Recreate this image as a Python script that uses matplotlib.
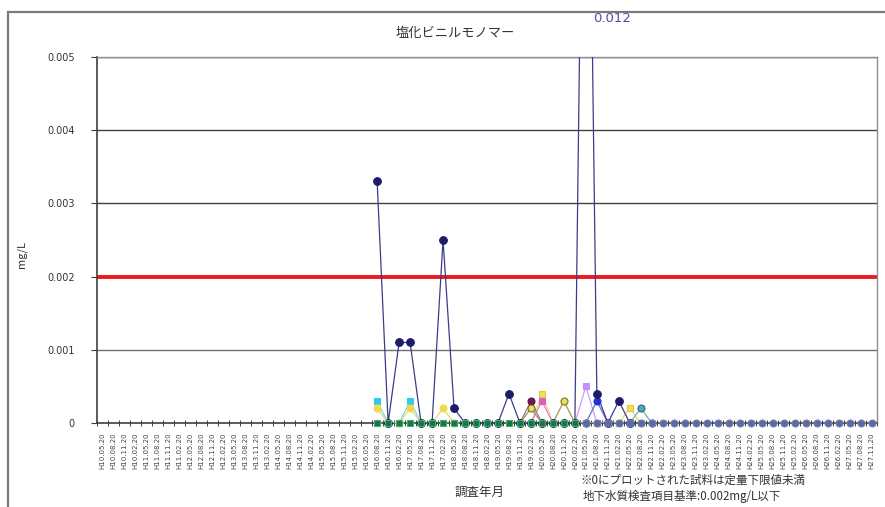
import numpy as np
import matplotlib.pyplot as plt

plt.rcParams['font.family'] = ['Noto Sans CJK JP', 'DejaVu Sans']

## categories (survey dates, illegible in the source -> approximate)
years = list(range(10, 28))
months = ["05", "08", "11", "02"]
cat_labels = ["H%d.%s.20" % (y, m) for y in years for m in months][:71]
n_cat = len(cat_labels)

## series: first category index + values (mg/L)
navy_start = 25
navy = [0.0033, 0, 0.0011, 0.0011, 0, 0, 0.0025, 0.0002, 0, 0, 0, 0,
        0.0004, 0, 0, 0, 0, 0, 0, 0.012, 0.0004, 0, 0.0003, 0]
cyan_start = 25
cyan = [0.0003, 0, 0, 0.0003, 0, 0]
yellow_start = 25
yellow = [0.0002, 0, 0, 0.0002, 0, 0, 0.0002, 0]
gold_start = 38
gold = [0, 0, 0.0004, 0, 0, 0, 0, 0, 0, 0, 0.0002, 0]
maroon_start = 38
maroon = [0, 0.0003, 0]
olive_start = 38
olive = [0, 0.0002, 0, 0, 0.0003, 0]
pink_start = 39
pink = [0, 0.0003, 0]
lavender_start = 43
lavender = [0, 0.0005, 0]
blue_start = 44
blue = [0, 0.0003, 0]
teal_start = 48
teal = [0, 0.0002, 0]
green_start = 25
green = [0, 0, 0, 0, 0, 0, 0, 0, 0, 0, 0, 0, 0, 0, 0, 0, 0, 0, 0]
slate_start = 44
slate = [0, 0, 0, 0, 0, 0, 0, 0, 0, 0, 0, 0, 0, 0, 0, 0, 0, 0, 0, 0,
         0, 0, 0, 0, 0, 0, 0]

standard = 0.002

# (start, values, marker, face, edge, line colour, marker size)
series = [
    (cyan_start, cyan, 's', '#33c8ee', '#33c8ee', '#7fd8e8', 5),
    (yellow_start, yellow, 'o', '#f2d84a', '#f2d84a', '#e8d870', 5),
    (gold_start, gold, 's', '#f0e060', '#e0c840', '#e8dc80', 5),
    (pink_start, pink, 's', '#e060c0', '#e060c0', '#e080c8', 5),
    (maroon_start, maroon, 'o', '#801060', '#601040', '#a07090', 5),
    (olive_start, olive, 'o', '#e8e060', '#807020', '#a09850', 5),
    (lavender_start, lavender, 's', '#c890f8', '#c890f8', '#c8a0f0', 5),
    (blue_start, blue, 'o', '#2030e0', '#2030e0', '#6070e0', 5),
    (teal_start, teal, 'o', '#50a8b0', '#306878', '#70b0b8', 5),
    (navy_start, navy, 'o', '#1c1c68', '#1c1c68', '#3c3c8c', 5.5),
    (green_start, green, 's', '#1f7050', '#38b860', '#38b860', 5),
    (slate_start, slate, 'o', '#5a6aa0', '#7080b0', '#7080b0', 5),
]

fig = plt.figure(figsize=(8.85, 5.07), dpi=100)
ax = fig.add_axes([97/885, 1-423/507, 780/885, 366/507])

## outer frame of the chart area
fig.add_artist(plt.Rectangle((8/885, -0.1), 1.2, 1.1-12/507, transform=fig.transFigure,
                             fill=False, edgecolor='#7a7a7a', lw=1.6))

# grid lines
for g in [0.001, 0.003, 0.004, 0.005]:
    ax.axhline(g, color='#404040' if g != 0.001 else '#707070', lw=1.0, zorder=1)
ax.axhline(standard, color='#ee1a1a', lw=2.8, zorder=2)

for start, vals, mk, fc, ec, lc, ms in series:
    x = np.arange(start, start + len(vals))
    ax.plot(x, vals, color=lc, lw=0.9, zorder=3)
for start, vals, mk, fc, ec, lc, ms in series:
    x = np.arange(start, start + len(vals))
    ax.plot(x, vals, linestyle='none', marker=mk, ms=ms, mfc=fc, mec=ec, mew=0.8,
            zorder=4, clip_on=False)

ax.set_xlim(-0.5, n_cat - 0.5)
ax.set_ylim(0, 0.005)
ax.set_yticks([0, 0.001, 0.002, 0.003, 0.004, 0.005])
ax.set_yticklabels(["0", "0.001", "0.002", "0.003", "0.004", "0.005"],
                   fontsize=7, color='#333333', family='DejaVu Sans')
ax.tick_params(axis='y', direction='out', length=4, width=0.8, color='#404040', pad=12)

ax.set_xticks(np.arange(n_cat))
ax.set_xticklabels(cat_labels, rotation=90, fontsize=5.0, color='#444444',
                   family='DejaVu Sans')
ax.tick_params(axis='x', length=0, pad=7)
ax.set_xticks(np.arange(n_cat + 1) - 0.5, minor=True)
ax.tick_params(axis='x', which='minor', direction='inout', length=4, width=0.7,
               color='#404040')

for s in ['left', 'bottom']:
    ax.spines[s].set_color('#404040')
    ax.spines[s].set_linewidth(1.2)
for s in ['top', 'right']:
    ax.spines[s].set_color('#909090')
    ax.spines[s].set_linewidth(1.0)

ax.set_ylabel("mg/L", fontsize=8, color='#333333')
ax.yaxis.set_label_coords(-0.09, 0.46)

ax.text(46.4, 0.00553, "0.012", fontsize=9.5, color='#4a50a0', ha='center', va='center',
        family='DejaVu Sans')

fig.text(455/885, 1-33/507, "塩化ビニルモノマー", fontsize=9.5, color='#333333',
         ha='center', va='center')
fig.text(480/885, 1-492/507, "調査年月", fontsize=9, color='#333333',
         ha='center', va='center')
fig.text(580/885, 1-480/507, "※0にプロットされた試料は定量下限値未満", fontsize=8.3,
         color='#333333', ha='left', va='center')
fig.text(583/885, 1-496/507, "地下水質検査項目基準:0.002mg/L以下", fontsize=8.3,
         color='#333333', ha='left', va='center')

fig.savefig("out.png", dpi=100)
